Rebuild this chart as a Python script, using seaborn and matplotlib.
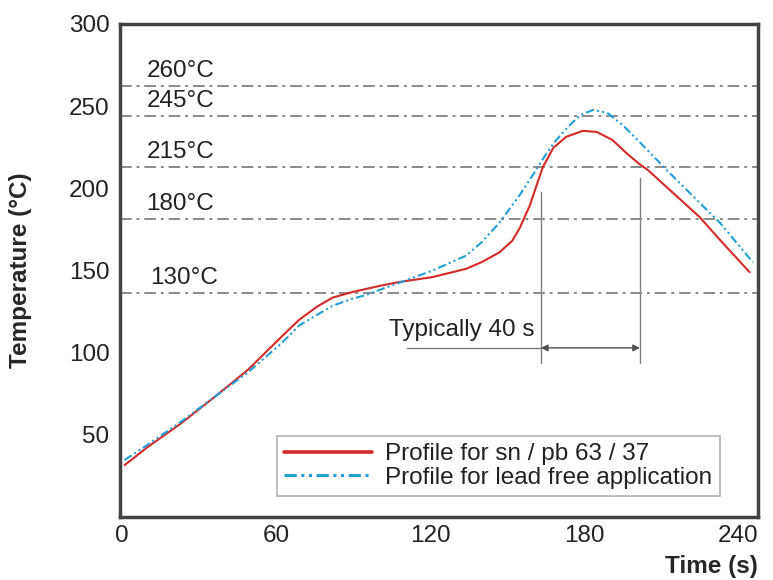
import pandas as pd
import matplotlib.pyplot as plt
import seaborn as sns

# Data
sn_pb_time = [1, 10, 23, 36, 49, 62, 69, 76, 82, 90, 100, 108, 121, 134, 140, 147,
              152, 155, 159, 162, 164, 168, 173, 179.5, 185, 191, 196.5, 201, 205,
              214.5, 225, 233, 244.5]
sn_pb_temp = [31.6, 42.6, 57, 73, 89.5, 109.5, 120, 128, 133.5, 137, 140.5, 143, 146,
              151, 155, 161, 168, 176, 190, 204, 213, 224.5, 231.3, 235, 234.3, 229.5,
              221.5, 215.5, 211, 197.5, 182.6, 168.6, 149]

lead_free_time = [1, 10, 23, 36, 49, 62, 69, 76, 82, 90, 95, 100, 108, 121, 134, 140,
                  147, 155, 160, 165.5, 169, 173.5, 178.5, 183.5, 189, 195, 201.8,
                  212.3, 225.2, 233, 245.8]
lead_free_temp = [34.7, 44, 58, 73, 88, 105.5, 116.5, 123, 128.5, 133, 135, 138, 142.5,
                  150, 159, 167, 179, 196, 208, 221.5, 229, 237, 244.5, 247.7, 246,
                  238.6, 228, 211, 191, 179, 155]

ref_levels = [262.3, 244, 213, 181.5, 136.3]
ref_labels = ['260°C', '245°C', '215°C', '180°C', '130°C']

x_ticks = [0, 60, 120, 180, 240]
y_ticks = [50, 100, 150, 200, 250, 300]

# window marks ("Typically 40 s")
win_start, win_end = 163.2, 201.8

df = pd.concat([
    pd.DataFrame({'Time': sn_pb_time, 'Temp': sn_pb_temp,
                  'Profile': 'Profile for sn / pb 63 / 37'}),
    pd.DataFrame({'Time': lead_free_time, 'Temp': lead_free_temp,
                  'Profile': 'Profile for lead free application'}),
])

sns.set_style('white')
plt.rcParams['font.family'] = ['Liberation Sans', 'DejaVu Sans']
fs = 17.5

fig = plt.figure(figsize=(7.73, 5.8), dpi=100)
ax = fig.add_axes([120 / 773, 1 - 517 / 580, 638 / 773, 493 / 580])

# reference temperature lines
for lvl, lab in zip(ref_levels, ref_labels):
    ax.axhline(lvl, color='#8a8a8a', lw=1.4, dashes=(6, 2.5, 1.5, 2.5), zorder=1)
    ax.text(9.5 if lab != '130°C' else 11, lvl + 9, lab, fontsize=fs,
            color='#222222', va='center', ha='left')

sns.lineplot(
    data=df, x='Time', y='Temp', hue='Profile', style='Profile',
    palette={'Profile for sn / pb 63 / 37': '#d42a2a',
             'Profile for lead free application': '#239ed6'},
    dashes={'Profile for sn / pb 63 / 37': '',
            'Profile for lead free application': (4, 1.5, 1, 1.5, 1, 1.5)},
    sort=False, ax=ax, zorder=3
)
for line, lw in zip(ax.get_lines()[-2:], [2.6, 2.2]):
    line.set_linewidth(lw)

# 40 s window annotation
ax.plot([win_start, win_start], [93.7, 197.8], color='#808080', lw=1, zorder=2)
ax.plot([win_end, win_end], [93.7, 206], color='#808080', lw=1, zorder=2)
ax.plot([111, win_start], [102.9, 102.9], color='#808080', lw=1, zorder=2)
ax.annotate('', xy=(win_start, 102.9), xytext=(win_end, 102.9),
            arrowprops=dict(arrowstyle='<|-|>', color='#505050', lw=1,
                            mutation_scale=10, shrinkA=0, shrinkB=0))
ax.text(104, 114, 'Typically 40 s', fontsize=fs, color='#222222',
        ha='left', va='center')

ax.set_xlim(-0.8, 247.8)
ax.set_ylim(0, 300)
ax.set_xticks(x_ticks)
ax.set_yticks(y_ticks)
ax.tick_params(axis='x', length=0, pad=6, labelsize=fs, labelcolor='#222222')
ax.tick_params(axis='y', direction='inout', length=13, width=2, color='#444444',
               pad=1, labelsize=fs, labelcolor='#222222')
for sp in ax.spines.values():
    sp.set_visible(True)
    sp.set_color('#444444')
    sp.set_linewidth(2.5)

ax.set_xlabel('')
ax.set_ylabel('Temperature (°C)', fontsize=fs, fontweight='bold')
ax.yaxis.set_label_coords(-88 / 638, 0.5)
fig.text(758 / 773, 1 - 567 / 580, 'Time (s)', fontsize=fs, fontweight='bold',
         ha='right', va='center')

leg = ax.legend(loc='lower right', bbox_to_anchor=(0.94, 0.043), fontsize=fs,
                frameon=True, fancybox=False, edgecolor='#a0a0a0',
                handlelength=3.6, handletextpad=0.55, labelspacing=0.05,
                borderpad=0.3, borderaxespad=0)
leg.get_frame().set_linewidth(1.2)
for t in leg.get_texts():
    t.set_color('#222222')
for h, lw in zip(leg.get_lines(), [2.6, 2.2]):
    h.set_linewidth(lw)

fig.savefig('out.png', dpi=100)
